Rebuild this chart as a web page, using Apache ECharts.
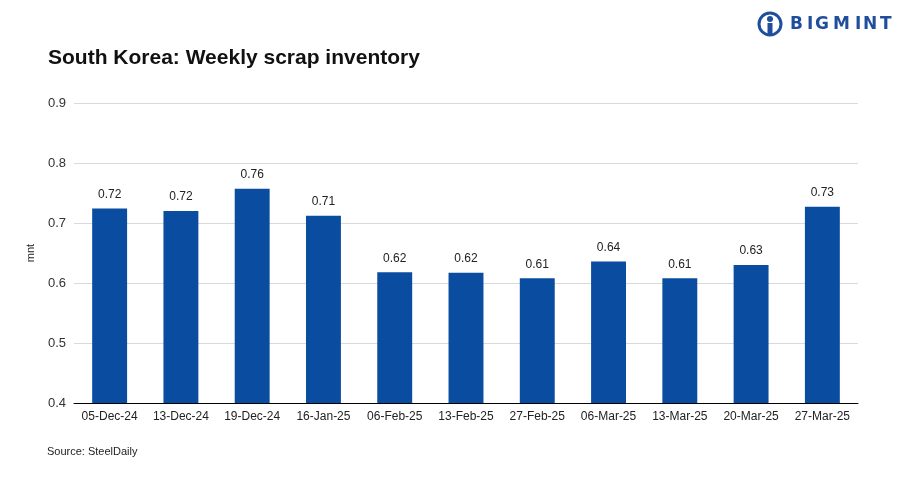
<!DOCTYPE html>
<html><head><meta charset="utf-8">
<script src="https://cdn.jsdelivr.net/npm/echarts@6/dist/echarts.min.js"></script>
<style>html,body{margin:0;padding:0;background:#fff}#c{width:908px;height:477px}</style>
</head><body><div id="c"></div>
<script>
const categories = ['05-Dec-24','13-Dec-24','19-Dec-24','16-Jan-25','06-Feb-25','13-Feb-25','27-Feb-25','06-Mar-25','13-Mar-25','20-Mar-25','27-Mar-25'];
const inventory = [0.724, 0.720, 0.757, 0.712, 0.618, 0.617, 0.608, 0.636, 0.608, 0.630, 0.727];
const yTicks = [0.4, 0.5, 0.6, 0.7, 0.8, 0.9];

const chart = echarts.init(document.getElementById('c'));
const F = '"Liberation Sans", Arial, sans-serif';
const logoLetters = [['B', 790], ['I', 807], ['G', 815], ['M', 833], ['I', 855], ['N', 863], ['T', 880]];
const logoText = logoLetters.map(([ch, x]) => ({
  type: 'text', left: x, top: 16,
  style: { text: ch, font: 'bold 17px "DejaVu Sans", sans-serif', fill: '#1f4e9c' }
}));
chart.setOption({
  backgroundColor: '#fff',
  animation: false,
  title: {
    text: 'South Korea: Weekly scrap inventory',
    left: 43, top: 43,
    textStyle: { fontFamily: F, fontSize: 21, fontWeight: 'bold', color: '#111' }
  },
  graphic: [
    { type: 'text', left: 47, top: 446, style: { text: 'Source: SteelDaily', font: '11px ' + F, fill: '#222' } },
    ...logoText,
    { type: 'circle', shape: { cx: 770, cy: 24, r: 11 }, style: { fill: 'none', stroke: '#1f4e9c', lineWidth: 3 } },
    { type: 'circle', shape: { cx: 770, cy: 19, r: 3 }, style: { fill: '#1f4e9c' } },
    { type: 'rect', shape: { x: 767.5, y: 23, width: 5, height: 13 }, style: { fill: '#1f4e9c' } }
  ],
  grid: { left: 74, right: 50, top: 103, bottom: 74 },
  xAxis: {
    type: 'category', data: categories,
    axisLine: { lineStyle: { color: '#000', width: 1 } },
    axisTick: { show: false },
    axisLabel: { fontFamily: F, fontSize: 12, color: '#222', margin: 8, interval: 0 }
  },
  yAxis: {
    type: 'value', min: 0.4, max: 0.9, interval: 0.1,
    name: 'mnt', nameLocation: 'middle', nameGap: 38, nameRotate: 90, nameMoveOverlap: false,
    nameTextStyle: { fontFamily: F, fontSize: 11, color: '#222' },
    axisLine: { show: false }, axisTick: { show: false },
    axisLabel: { fontFamily: F, fontSize: 13, color: '#333', margin: 8,
      formatter: v => { const t = yTicks.find(x => Math.abs(x - v) < 1e-6); return t !== undefined ? t.toFixed(1) : ''; } },
    splitLine: { lineStyle: { color: '#d9d9d9', width: 1 } }
  },
  series: [{
    type: 'bar', data: inventory, barWidth: '49%',
    itemStyle: { color: '#0a4ca0' },
    label: { show: true, position: 'top', distance: 8, fontFamily: F, fontSize: 12, color: '#222',
      formatter: p => p.value.toFixed(2) }
  }]
});
</script></body></html>
